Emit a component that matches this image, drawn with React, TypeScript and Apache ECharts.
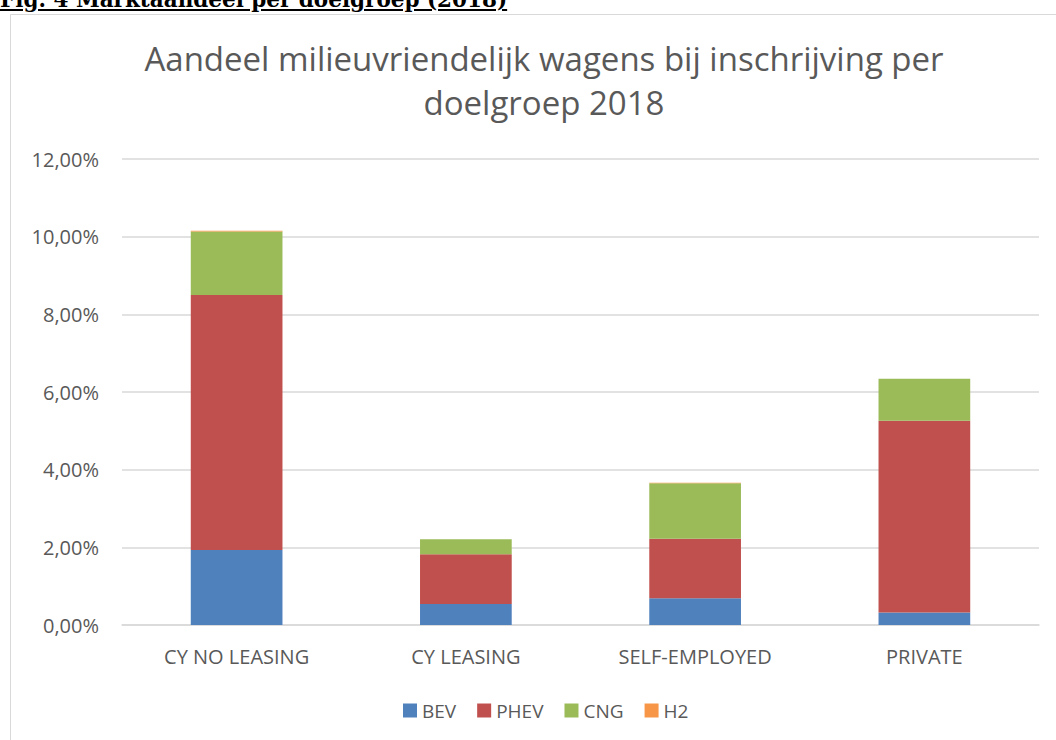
import React, { useEffect, useRef } from "react";
import * as echarts from "echarts";

const categories = ["CY NO LEASING", "CY LEASING", "SELF-EMPLOYED", "PRIVATE"];
const bev = [1.93, 0.54, 0.69, 0.32];
const phev = [6.57, 1.28, 1.53, 4.94];
const cng = [1.63, 0.39, 1.43, 1.08];
const h2 = [0.02, 0.0, 0.01, 0.0];
const seriesNames = ["BEV", "PHEV", "CNG", "H2"];
const seriesColors = ["#4F81BD", "#C0504D", "#9BBB59", "#F79646"];
const titleLines = ["Aandeel milieuvriendelijk wagens bij inschrijving per", "doelgroep 2018"];
const caption = "Fig. 4 Marktaandeel per doelgroep (2018)";

const FONT = "'Open Sans', 'Noto Sans', sans-serif";

export default function App() {
  const ref = useRef<HTMLDivElement>(null);
  useEffect(() => {
    if (!ref.current) return;
    const chart = echarts.init(ref.current, null, { renderer: "svg" });
    const data = [bev, phev, cng, h2];
    chart.setOption({
      animation: false,
      textStyle: { fontFamily: FONT },
      title: {
        text: titleLines.join("\n"),
        left: 539,
        top: 31,
        textAlign: "center",
        textStyle: { fontSize: 33, fontWeight: "normal", color: "#595959", lineHeight: 44, fontFamily: FONT },
      },
      graphic: [
        {
          type: "rect",
          shape: { x: 10.5, y: 14.5, width: 1100, height: 800 },
          style: { fill: "none", stroke: "#D9D9D9", lineWidth: 1 },
          silent: true,
        },
      ],
      legend: {
        data: seriesNames,
        top: 696,
        left: 398,
        itemWidth: 14,
        itemHeight: 14,
        itemGap: 21,
        icon: "rect",
        textStyle: { fontSize: 19, color: "#595959", fontFamily: FONT },
      },
      grid: { left: 122, right: 17, top: 159, bottom: 115 },
      xAxis: {
        type: "category",
        data: categories,
        axisLine: { lineStyle: { color: "#D9D9D9", width: 1.5 } },
        axisTick: { show: false },
        axisLabel: { fontSize: 20, color: "#595959", margin: 21, fontFamily: FONT },
      },
      yAxis: {
        type: "value",
        min: 0,
        max: 12,
        interval: 2,
        axisLine: { show: false },
        axisTick: { show: false },
        splitLine: { lineStyle: { color: "#D9D9D9", width: 1.5 } },
        axisLabel: {
          fontSize: 20,
          color: "#595959",
          margin: 23,
          fontFamily: FONT,
          formatter: (v: number) => v.toFixed(2).replace(".", ",") + "%",
        },
      },
      series: seriesNames.map((name, i) => ({
        name,
        type: "bar",
        stack: "total",
        barWidth: "40%",
        data: data[i],
        itemStyle: { color: seriesColors[i] },
      })),
    });
    return () => chart.dispose();
  }, []);
  return (
    <div style={{ position: "fixed", left: 0, top: 0, width: 1056, height: 740, overflow: "hidden", background: "#fff" }}>
      <div ref={ref} style={{ position: "absolute", left: 0, top: 0, width: 1056, height: 740 }} />
      <div
        style={{
          position: "absolute",
          left: 0,
          top: -12,
          fontFamily: "'DejaVu Serif', serif",
          fontWeight: "bold",
          fontSize: 21.5,
          lineHeight: "24px",
          textDecoration: "underline",
          color: "#000",
          whiteSpace: "nowrap",
        }}
      >
        {caption}
      </div>
    </div>
  );
}
